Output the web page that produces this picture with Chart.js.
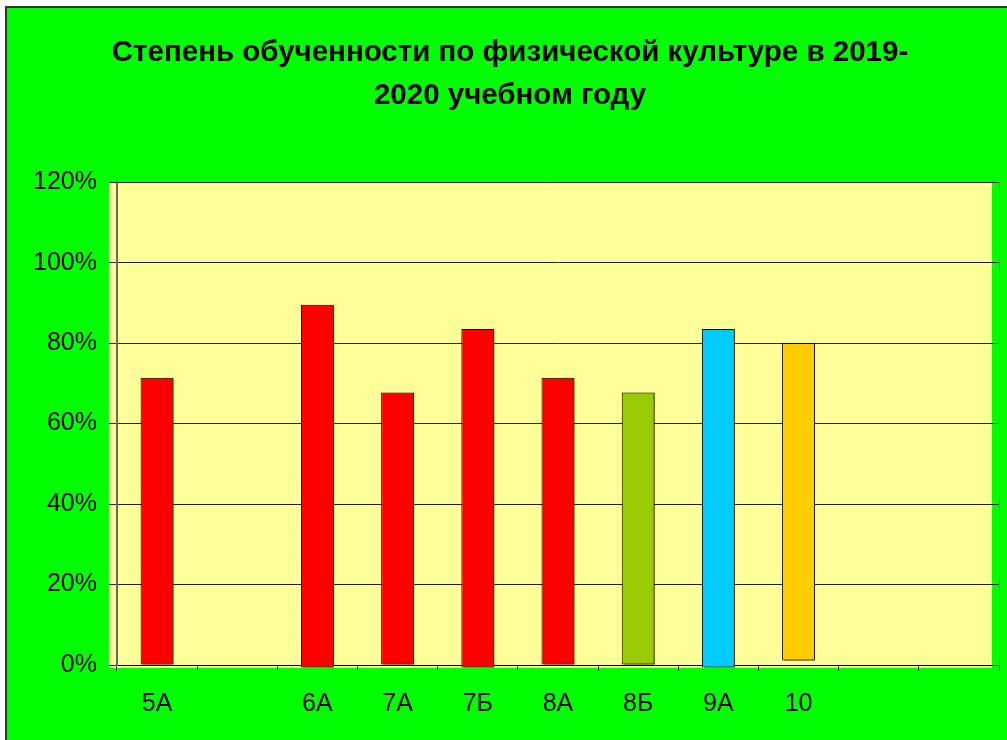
<!DOCTYPE html>
<html>
<head>
<meta charset="utf-8">
<script src="https://cdn.jsdelivr.net/npm/chart.js@4"></script>
<style>
  html, body { margin: 0; padding: 0; background: #fff; }
  #wrap {
    position: absolute; left: 5px; top: 6px;
    width: 1002px; height: 734px;
    border-left: 2px solid #333; border-top: 2px solid #333;
    background: #00ff00;
  }
  #chart { display: block; }
</style>
</head>
<body>
<div id="wrap"><canvas id="chart" width="1000" height="732"></canvas></div>
<script>
// классы (пустые ячейки оставлены как в исходной таблице)
const classes = ["5А", "", "6А", "7А", "7Б", "8А", "8Б", "9А", "10", "", ""];
// степень обученности, % (верх столбца)
const values = [71.4, null, 89.5, 67.7, 83.5, 71.4, 67.7, 83.5, 80.0, null, null];
// низ столбца, % (в исходнике столбцы немного "гуляют" у нуля)
const starts = [0, null, -0.6, 0, -0.6, 0, 0, -0.6, 1.1, null, null];
const barColors = ["#ff0000", "#ff0000", "#ff0000", "#ff0000", "#ff0000", "#ff0000",
  "#99cc00", "#00ccff", "#ffcc00", "#ff0000", "#ff0000"];
const yTicks = [0, 20, 40, 60, 80, 100, 120];

const ranges = values.map((v, i) => v == null ? null : [starts[i], v]);

const plotBg = {
  id: "plotBg",
  beforeDraw(chart) {
    const a = chart.chartArea;
    const ctx = chart.ctx;
    ctx.save();
    ctx.fillStyle = "#ffff99";
    ctx.fillRect(a.left - 8, a.top + 1, a.right - a.left + 1, a.bottom - a.top + 2);
    ctx.restore();
  },
  afterDraw(chart) {
    const a = chart.chartArea;
    const ctx = chart.ctx;
    ctx.save();
    ctx.strokeStyle = "#777";
    ctx.lineWidth = 1;
    ctx.beginPath();
    ctx.moveTo(a.right + 0.5, a.top);
    ctx.lineTo(a.right + 0.5, a.bottom);
    ctx.stroke();
    ctx.restore();
  },
  beforeDatasetDraw(chart) {
    const ctx = chart.ctx;
    ctx.save();
    ctx.shadowColor = "rgba(60,30,0,0.7)";
    ctx.shadowOffsetX = 2;
    ctx.shadowOffsetY = 1;
    ctx.shadowBlur = 0;
  },
  afterDatasetDraw(chart) {
    chart.ctx.restore();
  }
};

new Chart(document.getElementById("chart"), {
  type: "bar",
  data: {
    labels: classes,
    datasets: [{
      data: ranges,
      backgroundColor: barColors,
      borderColor: "#000",
      borderWidth: 1,
      borderSkipped: false,
      barPercentage: 0.41,
      categoryPercentage: 1,
      clip: 4
    }]
  },
  options: {
    responsive: false,
    animation: false,
    layout: { padding: { left: 14, right: 8, top: 0, bottom: 3 } },
    plugins: {
      legend: { display: false },
      tooltip: { enabled: false },
      title: {
        display: true,
        text: ["Степень обученности по физической культуре в 2019-", "2020 учебном году"],
        color: "#000",
        font: { family: "Liberation Sans, Arial", size: 29.5, weight: "bold", lineHeight: 1.46 },
        padding: { top: 23, bottom: 65 }
      }
    },
    scales: {
      x: {
        grid: { drawOnChartArea: false, drawTicks: true, tickLength: 6, color: "#333" },
        border: { color: "#000", width: 1 },
        ticks: {
          color: "#000",
          padding: 18,
          maxRotation: 0,
          autoSkip: false,
          font: { family: "Liberation Sans, Arial", size: 25 }
        }
      },
      y: {
        min: 0,
        max: 120,
        afterBuildTicks(scale) { scale.ticks = yTicks.map(v => ({ value: v })); },
        grid: { color: "#222", lineWidth: 1, tickLength: 8 },
        border: { color: "#666", width: 2 },
        ticks: {
          color: "#000",
          padding: 12,
          font: { family: "Liberation Sans, Arial", size: 25 },
          callback: v => v + "%"
        }
      }
    }
  },
  plugins: [plotBg]
});
</script>
</body>
</html>
